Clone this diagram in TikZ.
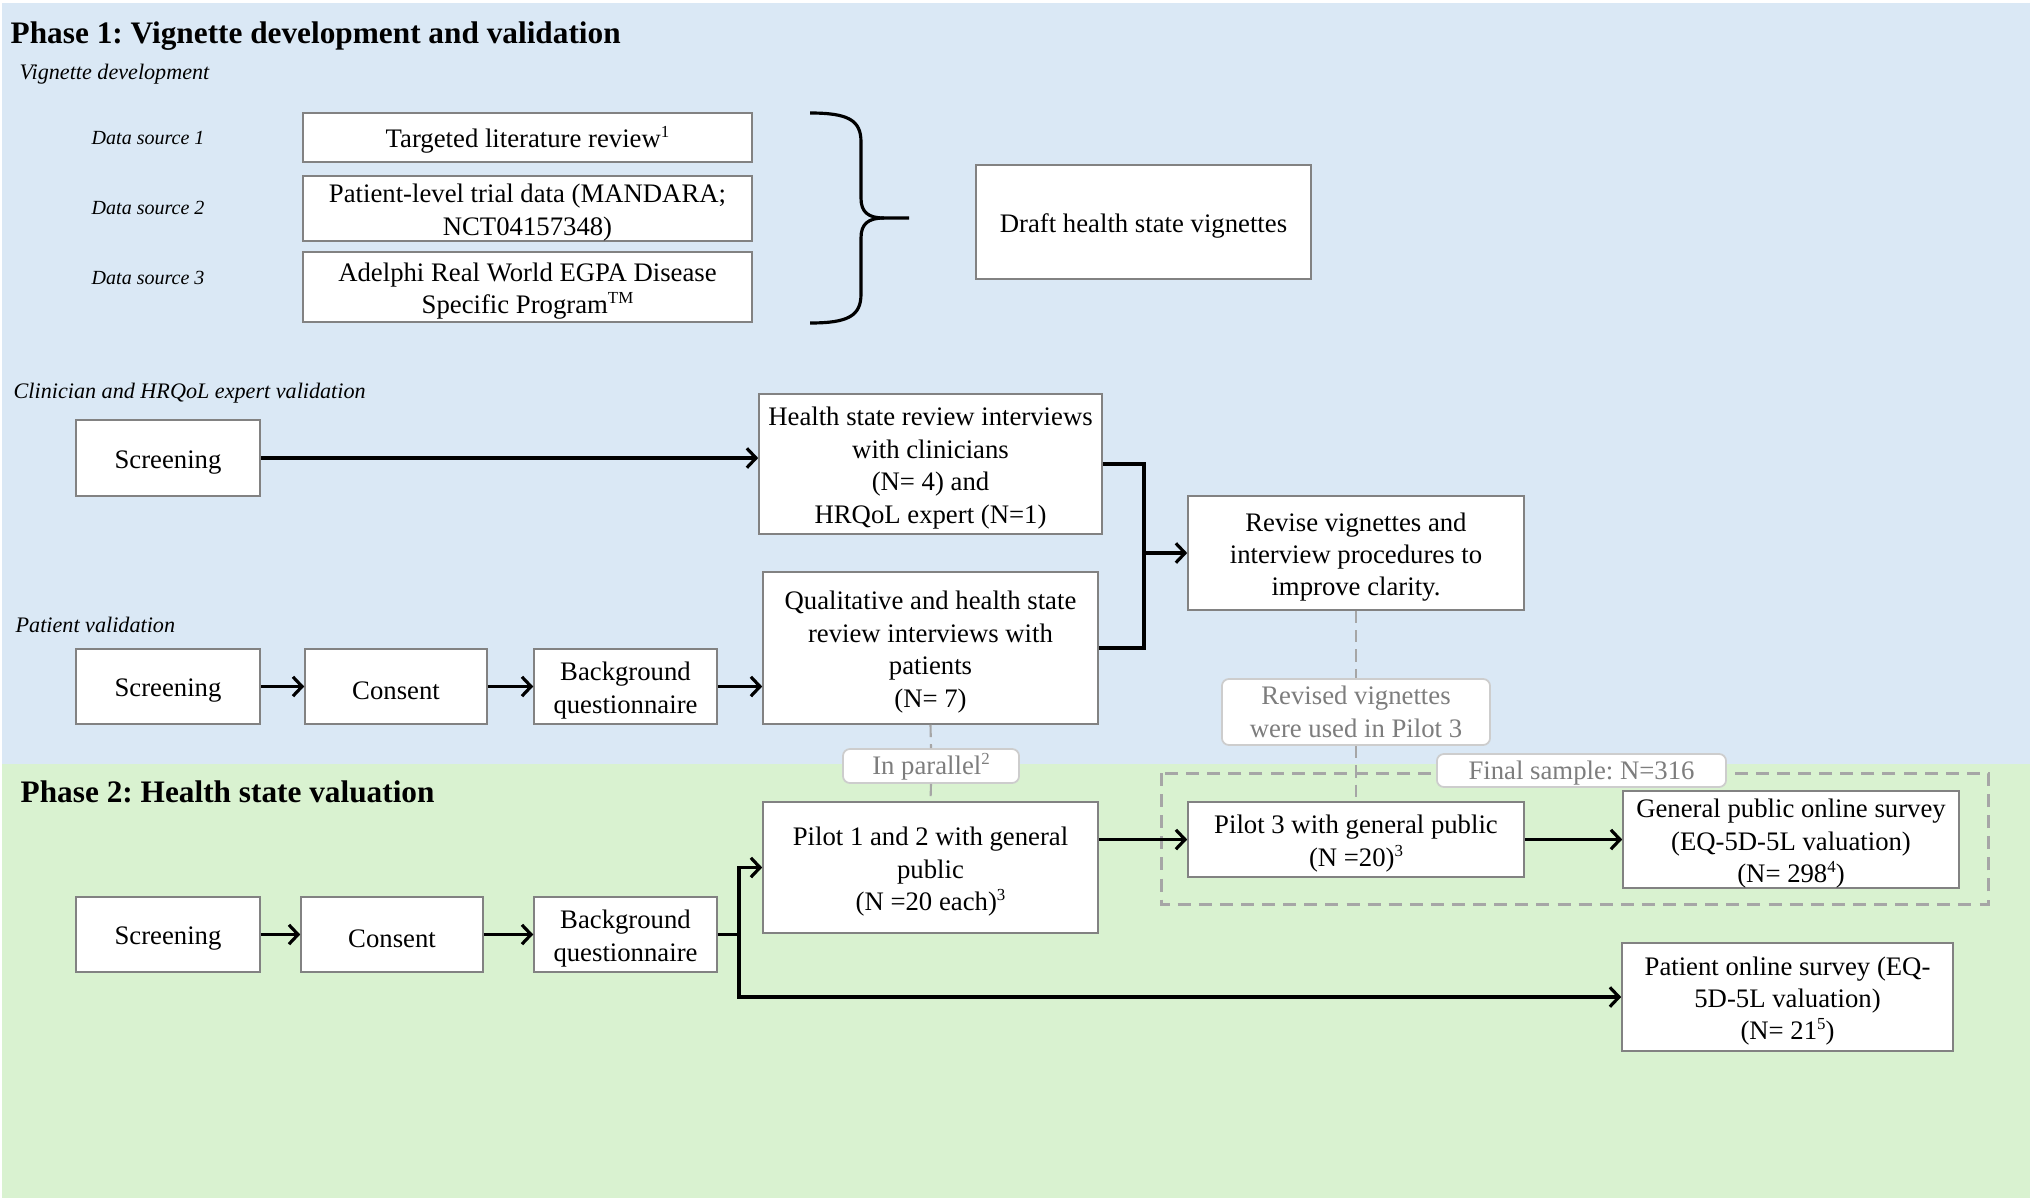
\documentclass[tikz,border=0pt]{standalone}
\usepackage{fontspec}
\setmainfont{Liberation Serif}
\usepackage{tikz}
\usetikzlibrary{arrows.meta,calc,positioning}
\definecolor{phaseblue}{RGB}{218,232,245}
\definecolor{phasegreen}{RGB}{217,242,208}
\definecolor{boxgray}{RGB}{130,130,130}
\definecolor{tagline}{RGB}{205,205,205}
\definecolor{tagtext}{RGB}{125,125,125}
\definecolor{dashgray}{RGB}{166,166,166}
\frenchspacing
\newcommand{\bodyfont}{\fontsize{7.6}{9.2}\selectfont}
\newcommand{\phasefont}{\fontsize{8.9}{10.5}\selectfont\bfseries}
\newcommand{\subfont}{\fontsize{6.3}{7.5}\selectfont\itshape}
\newcommand{\srcfont}{\fontsize{5.7}{7}\selectfont\itshape}
\newcommand{\supnote}[1]{\raisebox{2.9pt}{\fontsize{4.8}{5}\selectfont #1}}
\newcommand{\topstrut}{\rule{0pt}{7.6pt}}

\begin{document}
\begin{tikzpicture}[x=0.01cm,y=-0.01cm,
    box/.style={draw=boxgray,line width=0.4pt,fill=white,align=center,inner sep=0pt,font=\bodyfont,
        execute at begin node={\topstrut}},
    tag/.style={draw=tagline,line width=0.5pt,fill=white,rounded corners=2pt,align=center,inner sep=0pt,text=tagtext,font=\bodyfont,
        execute at begin node={\rule{0pt}{6.6pt}}},
    arr/.style={line width=0.9pt,-{Straight Barb[length=2.6pt,width=5.5pt]}},
    link/.style={line width=0.9pt},
    guide/.style={draw=dashgray,line width=0.6pt,dash pattern=on 3.5pt off 2pt},
    frame/.style={draw=dashgray,line width=0.85pt,dash pattern=on 3.7pt off 2.3pt}]
        % backgrounds of the two phases
        \useasboundingbox (0,0) rectangle (2030,1200);
        \fill[phaseblue] (2,3) rectangle (2030,764);
        \fill[phasegreen] (2,764) rectangle (2030,1198);
        % headings
        \node[anchor=base west,inner sep=0pt,font=\phasefont] (ph1) at (10,44) {Phase 1: Vignette development and validation};
        \node[anchor=base west,inner sep=0pt,font=\subfont] (devlbl) at (19,80) {Vignette development};
        \node[anchor=base west,inner sep=0pt,font=\srcfont] (src1) at (91,144) {Data source 1};
        \node[anchor=base west,inner sep=0pt,font=\srcfont] (src2) at (91,214) {Data source 2};
        \node[anchor=base west,inner sep=0pt,font=\srcfont] (src3) at (91,284) {Data source 3};
        \node[anchor=base west,inner sep=0pt,font=\subfont] (clinlbl) at (13,398) {Clinician and HRQoL expert validation};
        \node[anchor=base west,inner sep=0pt,font=\subfont] (patlbl) at (15,632) {Patient validation};
        \node[anchor=base west,inner sep=0pt,font=\phasefont] (ph2) at (20,802) {Phase 2: Health state valuation};
        % data sources
        \node[box,minimum width=4.49cm,minimum height=0.49cm] (lit) at (527.5,137.5) {Targeted literature review\supnote{1}};
        \node[box,minimum width=4.49cm,minimum height=0.63cm] (trial) at (527.5,208.5) {\topstrut Patient-level trial data (MANDARA;\\NCT04157348)};
        \node[box,minimum width=4.49cm,minimum height=0.70cm] (adelphi) at (527.5,287) {\topstrut Adelphi Real World EGPA Disease\\Specific Program\supnote{TM}};
        \node[box,minimum width=3.35cm,minimum height=1.14cm] (draft) at (1143.5,222) {Draft health state vignettes};
        % brace
        \coordinate (bracetop) at (810,113);
        \coordinate (bracetip) at (909,218);
        \coordinate (bracebot) at (810,323);
        \draw[link] (bracetop) .. controls (848,113) and (861,120) .. (861,142) -- (861,198)
            .. controls (861,212) and (868,218) .. (884,218) -- (bracetip);
        \draw[link] (884,218) .. controls (868,218) and (861,224) .. (861,238) -- (861,294)
            .. controls (861,316) and (848,323) .. (bracebot);
        % clinician validation
        \node[box,minimum width=1.84cm,minimum height=0.76cm] (scrA) at (168,458) {Screening};
        \node[box,minimum width=3.43cm,minimum height=1.40cm] (hsr) at (930.5,464) {\topstrut Health state review interviews\\with clinicians\\(N= 4) and\\HRQoL expert (N=1)};
        \draw[arr] (scrA.east) -- (scrA.east -| hsr.west);
        % patient validation
        \node[box,minimum width=1.84cm,minimum height=0.75cm] (scrB) at (168,686.5) {Screening};
        \node[box,minimum width=1.82cm,minimum height=0.75cm] (conB) at (396,686.5) {Consent};
        \node[box,minimum width=1.83cm,minimum height=0.75cm] (bgB) at (625.5,686.5) {\topstrut Background\\questionnaire};
        \node[box,minimum width=3.35cm,minimum height=1.52cm] (qual) at (930.5,648) {\topstrut Qualitative and health state\\review interviews with\\patients\\(N= 7)};
        \draw[arr] (scrB) -- (conB);
        \draw[arr] (conB) -- (bgB);
        \draw[arr] (bgB.east) -- (bgB.east -| qual.west);
        % revision
        \node[box,minimum width=3.36cm,minimum height=1.14cm] (revise) at (1356,553) {\topstrut Revise vignettes and\\interview procedures to\\improve clarity.};
        \coordinate (merge) at (1144,553);
        \draw[link] (hsr.east) -| (merge) |- (qual.east);
        \draw[arr] (merge) -- (revise.west);
        % final sample frame
        \draw[frame] (1161,773) rectangle (1988,904);
        % health state valuation
        \node[box,minimum width=1.84cm,minimum height=0.75cm] (scrC) at (168,934.5) {Screening};
        \node[box,minimum width=1.82cm,minimum height=0.75cm] (conC) at (392,934.5) {Consent};
        \node[box,minimum width=1.83cm,minimum height=0.75cm] (bgC) at (625.5,934.5) {\topstrut Background\\questionnaire};
        \node[box,minimum width=3.35cm,minimum height=1.31cm] (pilotab) at (930.5,867.5) {\topstrut Pilot 1 and 2 with general\\public\\(N =20 each)\supnote{3}};
        \node[box,minimum width=3.36cm,minimum height=0.75cm] (pilotc) at (1356,839.5) {\topstrut Pilot 3 with general public\\(N =20)\supnote{3}};
        \node[box,minimum width=3.36cm,minimum height=0.95cm] (gpsurvey) at (1791,839.5) {\topstrut General public online survey\\(EQ-5D-5L valuation)\\(N= 298\supnote{4})};
        \node[box,minimum width=3.31cm,minimum height=1.08cm] (patsurvey) at (1787.5,997) {\topstrut Patient online survey (EQ-\\5D-5L valuation)\\(N= 21\supnote{5})};
        \draw[arr] (scrC) -- (conC);
        \draw[arr] (conC) -- (bgC);
        \coordinate (split) at (739,934.5);
        \draw[link] (bgC.east) -- (split);
        \draw[arr] (split) |- (pilotab.west);
        \draw[arr] (split) |- (patsurvey.west);
        \draw[arr] (pilotab.east |- pilotc.west) -- (pilotc.west);
        \draw[arr] (pilotc) -- (gpsurvey);
        % notes
        \node[tag,minimum width=1.76cm,minimum height=0.34cm] (partag) at (931,766) {In parallel\supnote{2}};
        \node[tag,minimum width=2.68cm,minimum height=0.66cm] (revtag) at (1356,712) {Revised vignettes\\were used in Pilot 3};
        \node[tag,minimum width=2.89cm,minimum height=0.33cm] (finaltag) at (1581.5,770.5) {Final sample: N=316};
        \draw[guide] (qual.south) -- (partag.north);
        \draw[guide] (partag.south) -- (pilotab.north);
        \draw[guide] (revise.south) -- (revtag.north);
        \draw[guide] (revtag.south) -- (pilotc.north);
\end{tikzpicture}
\end{document}
